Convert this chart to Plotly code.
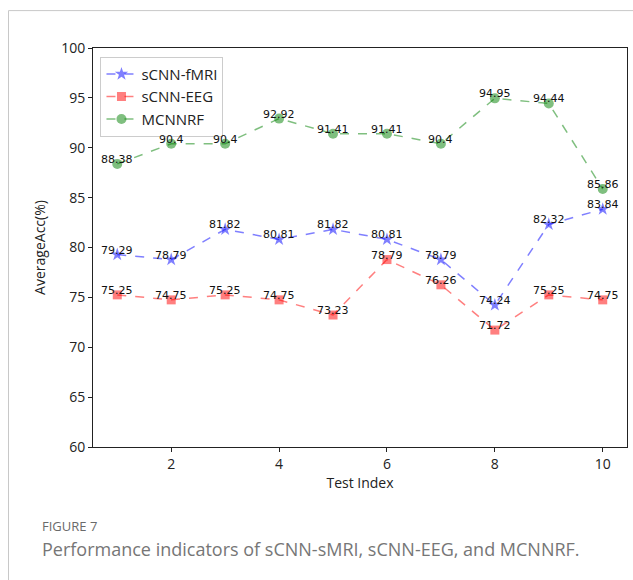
import plotly.graph_objects as go

test_index = [1, 2, 3, 4, 5, 6, 7, 8, 9, 10]
fmri = [79.29, 78.79, 81.82, 80.81, 81.82, 80.81, 78.79, 74.24, 82.32, 83.84]
eeg = [75.25, 74.75, 75.25, 74.75, 73.23, 78.79, 76.26, 71.72, 75.25, 74.75]
mcnnrf = [88.38, 90.4, 90.4, 92.92, 91.41, 91.41, 90.4, 94.95, 94.44, 85.86]
series_names = ["sCNN-fMRI", "sCNN-EEG", "MCNNRF"]
y_ticks = [60, 65, 70, 75, 80, 85, 90, 95, 100]
x_ticks = [2, 4, 6, 8, 10]

FONT = "DejaVu Sans"
fig = go.Figure()

styles = [
    (fmri, "rgba(0,0,255,0.5)", "star", 10),
    (eeg, "rgba(255,0,0,0.5)", "square", 9),
    (mcnnrf, "rgba(0,128,0,0.5)", "circle", 10),
]
for name, (vals, col, sym, sz) in zip(series_names, styles):
    fig.add_trace(go.Scatter(
        x=test_index, y=vals, name=name, mode="lines+markers",
        line=dict(color=col, dash="dash", width=1.5),
        marker=dict(symbol=sym, size=sz, color=col, line=dict(width=0)),
    ))

annotations = []
for vals in (fmri, eeg, mcnnrf):
    for xv, yv in zip(test_index, vals):
        annotations.append(dict(
            x=xv, y=yv, xref="x", yref="y", text=f"{yv:g}", showarrow=False,
            xanchor="center", yanchor="bottom", yshift=-4,
            font=dict(family=FONT, size=11, color="#111"),
        ))

annotations.append(dict(
    x=(41 - 93) / 534, y=(447 - 526) / 400, xref="paper", yref="paper",
    text="FIGURE 7", showarrow=False, xanchor="left", yanchor="middle", borderpad=0,
    font=dict(family="Open Sans", size=13, color="#6a6a6a"),
))
annotations.append(dict(
    x=(41 - 93) / 534, y=(447 - 549) / 400, xref="paper", yref="paper",
    text="Performance indicators of sCNN-sMRI, sCNN-EEG, and MCNNRF.", showarrow=False,
    xanchor="left", yanchor="middle", borderpad=0,
    font=dict(family="Open Sans", size=18, color="#767676"),
))

fig.update_layout(
    width=633, height=580,
    margin=dict(l=93, r=6, t=48, b=133, autoexpand=False),
    paper_bgcolor="white", plot_bgcolor="white",
    font=dict(family=FONT, size=13, color="#222"),
    showlegend=True,
    legend=dict(
        x=0.014, y=0.978, xanchor="left", yanchor="top",
        bgcolor="rgba(255,255,255,0.8)", bordercolor="#cccccc", borderwidth=1,
        font=dict(family="Open Sans", size=15, color="#222"),
        tracegroupgap=2, itemwidth=30,
    ),
    annotations=annotations,
    shapes=[dict(
        type="rect", xref="paper", yref="paper",
        x0=(8.5 - 93) / 534, x1=(660 - 93) / 534,
        y0=(447 - 620) / 400, y1=1 + (48 - 10.5) / 400,
        line=dict(color="#c8c8c8", width=1), fillcolor="rgba(0,0,0,0)", layer="below",
    )],
)
fig.update_xaxes(
    range=[0.55, 10.45], tickmode="array", tickvals=x_ticks,
    ticks="outside", ticklen=4, tickcolor="#222", showgrid=False, zeroline=False,
    showline=True, linecolor="#222", linewidth=1, mirror=True,
    title=dict(text="Test Index", standoff=6, font=dict(family="Open Sans", size=14, color="#222")),
    tickfont=dict(family="Open Sans", size=14, color="#222"),
)
fig.update_yaxes(
    range=[60, 100], tickmode="array", tickvals=y_ticks,
    ticks="outside", ticklen=4, tickcolor="#222", showgrid=False, zeroline=False,
    showline=True, linecolor="#222", linewidth=1, mirror=True,
    title=dict(text="AverageAcc(%)", standoff=12, font=dict(family="Open Sans", size=14, color="#222")),
    tickfont=dict(family="Open Sans", size=14, color="#222"),
)

fig.write_html("out.html", config={"displayModeBar": False},
               post_script="document.body.style.margin='0';")
